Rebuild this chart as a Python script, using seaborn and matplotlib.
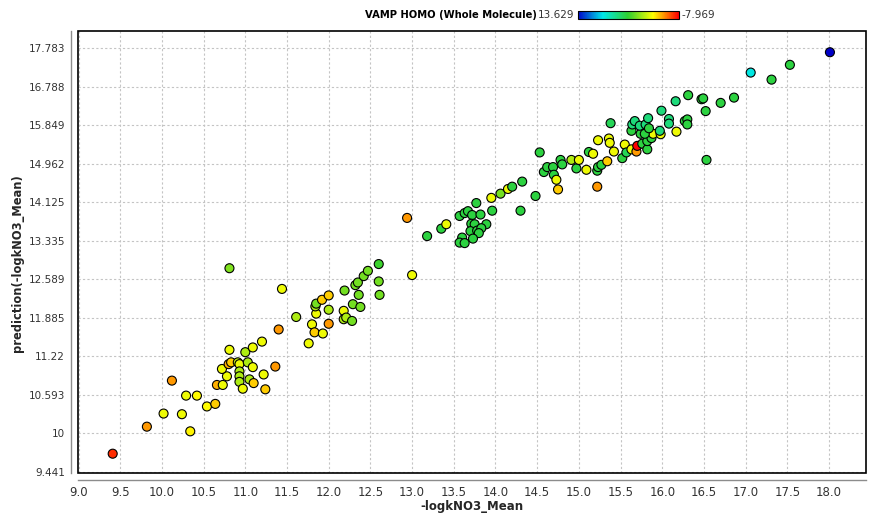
import numpy as np
import pandas as pd
import matplotlib
matplotlib.use("Agg")
import matplotlib.pyplot as plt
import seaborn as sns
from matplotlib.colors import LinearSegmentedColormap, Normalize
from matplotlib.cm import ScalarMappable
from matplotlib.patches import Rectangle
from matplotlib.ticker import FixedLocator, NullLocator, FixedFormatter

# ---------------- data ----------------
x_vals = [
    9.41, 9.82, 10.02, 10.24, 10.34, 10.12, 10.29, 10.42, 10.54, 10.64,
    10.66, 10.73, 10.78, 10.72, 10.80, 10.83, 10.81, 10.91, 10.93, 11.00,
    11.09, 11.20, 11.03, 11.09, 10.93, 10.93, 10.93, 10.97, 11.05, 11.10,
    11.22, 11.24, 11.36, 11.40, 11.44, 10.81, 11.61, 11.76, 11.80, 11.83,
    11.93, 12.00, 11.85, 11.84, 11.85, 11.92, 12.00, 12.00, 12.18, 12.18,
    12.21, 12.28, 12.19, 12.29, 12.38, 12.32, 12.35, 12.36, 12.42, 12.47,
    12.60, 12.60, 12.61, 13.00,
    12.94, 13.18, 13.35, 13.41, 13.57, 13.63, 13.67, 13.72, 13.77, 13.82,
    13.71, 13.75, 13.89, 13.70, 13.78, 13.83, 13.80, 13.73, 13.60, 13.57,
    13.63, 13.96, 13.95, 14.06, 14.15, 14.20, 14.32, 14.30, 14.48, 14.53,
    14.58, 14.62, 14.69, 14.70, 14.73, 14.75, 14.78, 14.80, 14.91, 14.97,
    15.00, 15.09, 15.12, 15.17, 15.23, 15.22, 15.22, 15.23, 15.27, 15.34,
    15.36, 15.37, 15.38, 15.42, 15.52, 15.55, 15.57, 15.63, 15.69, 15.70,
    15.76, 15.82, 15.82, 15.87, 15.89, 15.98, 15.97, 15.74, 15.79, 15.63,
    15.64, 15.67, 15.73, 15.80, 15.83, 15.84, 15.99, 16.08, 16.08, 16.17,
    16.27, 16.30, 16.30, 16.16, 16.31, 16.47, 16.49, 16.52, 16.53, 16.70,
    16.86, 17.06, 17.31, 17.53, 18.01,
]
y_vals = [
    9.70, 10.10, 10.30, 10.29, 10.03, 10.82, 10.58, 10.58, 10.41, 10.45,
    10.75, 10.75, 10.89, 11.01, 11.09, 11.12, 11.33, 11.12, 11.09, 11.29,
    11.37, 11.47, 11.12, 11.04, 10.97, 10.89, 10.80, 10.69, 10.84, 10.78,
    10.92, 10.68, 11.05, 11.68, 12.41, 12.80, 11.90, 11.44, 11.77, 11.63,
    11.61, 11.78, 11.96, 12.09, 12.14, 12.21, 12.29, 12.03, 12.01, 11.86,
    11.89, 11.83, 12.38, 12.13, 12.08, 12.48, 12.53, 12.30, 12.65, 12.75,
    12.88, 12.55, 12.30, 12.67,
    13.80, 13.43, 13.58, 13.67, 13.84, 13.90, 13.94, 13.86, 14.11, 13.87,
    13.68, 13.67, 13.67, 13.53, 13.54, 13.59, 13.49, 13.38, 13.40, 13.30,
    13.29, 13.95, 14.22, 14.31, 14.41, 14.46, 14.57, 13.95, 14.26, 15.22,
    14.78, 14.89, 14.89, 14.72, 14.61, 14.40, 15.05, 14.95, 15.05, 14.86,
    15.05, 14.83, 15.23, 15.19, 15.50, 14.46, 14.81, 14.89, 14.94, 15.02,
    15.54, 15.44, 15.90, 15.24, 15.09, 15.40, 15.22, 15.29, 15.24, 15.37,
    15.42, 15.29, 15.48, 15.55, 15.65, 15.64, 15.72, 15.65, 15.65, 15.72,
    15.87, 15.95, 15.84, 15.87, 16.02, 15.78, 16.20, 16.00, 15.89, 15.70,
    15.95, 15.99, 15.87, 16.43, 16.58, 16.48, 16.50, 16.19, 15.05, 16.39,
    16.52, 17.15, 16.97, 17.35, 17.68,
]
homo_vals = [
    -7.0, -4.7, -2.1, -2.1, -2.8, -4.7, -2.1, -2.6, -2.6, -3.6,
    -4.2, -2.1, -2.1, -2.1, -4.2, -3.6, -2.1, -1.0, -2.1, -0.4,
    -2.1, -2.1, -0.4, -2.1, -0.4, -0.4, -0.4, -2.1, -0.4, -3.6,
    -2.1, -3.6, -4.7, -4.7, -2.1, 0.8, -0.4, -2.1, -2.1, -3.6,
    -2.1, -4.7, -2.1, -0.4, 1.1, -3.6, -3.6, -0.4, -2.1, -0.4,
    -0.4, 1.1, 1.1, 1.1, 1.1, 1.1, 1.1, 1.1, 1.1, 1.1,
    2.5, 1.1, 1.1, -2.1,
    -4.7, 3.3, 3.3, -2.1, 3.3, 3.3, 3.3, 3.3, 3.3, 3.3,
    3.3, 3.3, 3.3, 3.3, 3.3, 3.3, 3.3, 3.3, 3.3, 3.3,
    3.3, 3.3, -2.1, 1.1, -2.1, 3.3, 3.3, 3.3, 3.3, 3.3,
    3.3, 3.3, 3.3, 3.3, -2.1, -3.6, 3.3, 3.3, -0.4, 3.3,
    -2.1, -2.1, 3.3, -2.1, -2.1, -4.7, 3.3, 3.3, 3.3, -3.6,
    -2.1, -2.1, 4.0, -2.1, 3.3, -2.1, 4.0, -2.1, -4.7, -7.969,
    3.3, 3.3, 3.3, 3.3, -2.1, -2.1, 5.0, 3.3, 3.3, 3.3,
    5.0, 5.0, 5.0, 5.0, 5.0, 3.3, 5.0, 5.0, 5.0, -2.1,
    3.3, 3.3, 3.3, 5.0, 3.3, 3.3, 3.3, 3.3, 3.3, 3.3,
    3.3, 8.0, 3.3, 3.3, 13.629,
]
x_ticks = [9.0, 9.5, 10.0, 10.5, 11.0, 11.5, 12.0, 12.5, 13.0, 13.5,
           14.0, 14.5, 15.0, 15.5, 16.0, 16.5, 17.0, 17.5, 18.0]
y_tick_labels = ["9.441", "10", "10.593", "11.22", "11.885", "12.589",
                 "13.335", "14.125", "14.962", "15.849", "16.788", "17.783"]
homo_min, homo_max = -7.969, 13.629
x_label = "-logkNO3_Mean"
y_label = "prediction(-logkNO3_Mean)"
color_title = "VAMP HOMO (Whole Molecule)"

df = pd.DataFrame({"x": x_vals, "y": y_vals, "homo": homo_vals})

# ---------------- style ----------------
sns.set_style("white")
plt.rcParams["font.family"] = ["DejaVu Sans"]

W, H = 877, 517
fig = plt.figure(figsize=(W / 100, H / 100), dpi=100)
ax_l, ax_r, ax_t, ax_b = 77.5, 865.7, 31, 473
ax = fig.add_axes([ax_l / W, 1 - ax_b / H, (ax_r - ax_l) / W, (ax_b - ax_t) / H])

cmap = LinearSegmentedColormap.from_list(
    "rainbow_r", [(0.0, "#ff0000"), (0.25, "#ffff00"), (0.5, "#30d030"),
                  (0.75, "#00e8e8"), (1.0, "#0000c8")])
norm = Normalize(vmin=homo_min, vmax=homo_max)

sns.scatterplot(data=df, x="x", y="y", hue="homo", palette=cmap, hue_norm=norm,
                legend=False, ax=ax, s=42, edgecolor="black", linewidth=0.8,
                zorder=3)

ax.set_yscale("log")
ax.set_xlim(8.988, 18.439)
ax.set_ylim(9.424, 18.25)
y_ticks = [float(v) for v in y_tick_labels]
ax.yaxis.set_major_locator(FixedLocator(y_ticks))
ax.yaxis.set_major_formatter(FixedFormatter(y_tick_labels))
ax.yaxis.set_minor_locator(NullLocator())
ax.xaxis.set_major_locator(FixedLocator(x_ticks))
ax.set_xticklabels([f"{v:.1f}" for v in x_ticks])

ax.grid(True, which="major", color="#c4c4c4", linestyle=(0, (2, 2)), linewidth=0.8)
ax.set_axisbelow(True)

for side in ("top", "right"):
    ax.spines[side].set_visible(False)
for side in ("left", "bottom"):
    ax.spines[side].set_position(("outward", 5))
    ax.spines[side].set_color("#8c8c8c")
    ax.spines[side].set_linewidth(1.0)
ax.add_patch(Rectangle((0, 0), 1, 1, transform=ax.transAxes, fill=False,
                       edgecolor="black", linewidth=1.2, clip_on=False, zorder=5))

ax.tick_params(axis="both", direction="out", length=2, width=1, color="#8c8c8c",
               labelsize=7.5, labelcolor="#333333", pad=2)
for lab in ax.get_xticklabels():
    lab.set_family(["Liberation Sans Narrow", "DejaVu Sans"])
    lab.set_fontsize(8.5)

ax.set_xlabel(x_label, fontsize=8.5, fontweight="bold",
              family=["Liberation Sans Narrow", "DejaVu Sans"], labelpad=1)
ax.set_ylabel(y_label, fontsize=8.3, fontweight="bold")
ax.yaxis.set_label_coords(-0.068, 0.475)

# ---------------- colour scale at top ----------------
cb_l, cb_r, cb_t, cb_b = 577.5, 678.5, 11.0, 19.0
cax = fig.add_axes([cb_l / W, 1 - cb_b / H, (cb_r - cb_l) / W, (cb_b - cb_t) / H])
cb = fig.colorbar(ScalarMappable(norm=norm, cmap=cmap), cax=cax,
                  orientation="horizontal")
cax.invert_xaxis()
cb.set_ticks([])
cb.outline.set_edgecolor("black")
cb.outline.set_linewidth(0.8)

fig.text(536.5 / W, 1 - 15.5 / H, color_title, ha="right", va="center",
         fontsize=7.2, fontweight="bold", color="black")
fig.text(574 / W, 1 - 15.5 / H, f"{homo_max:.3f}", ha="right", va="center",
         fontsize=7.5, color="#333333")
fig.text(681.5 / W, 1 - 15.5 / H, f"{homo_min:.3f}", ha="left", va="center",
         fontsize=7.5, color="#333333")

fig.savefig("out.png", dpi=100)
